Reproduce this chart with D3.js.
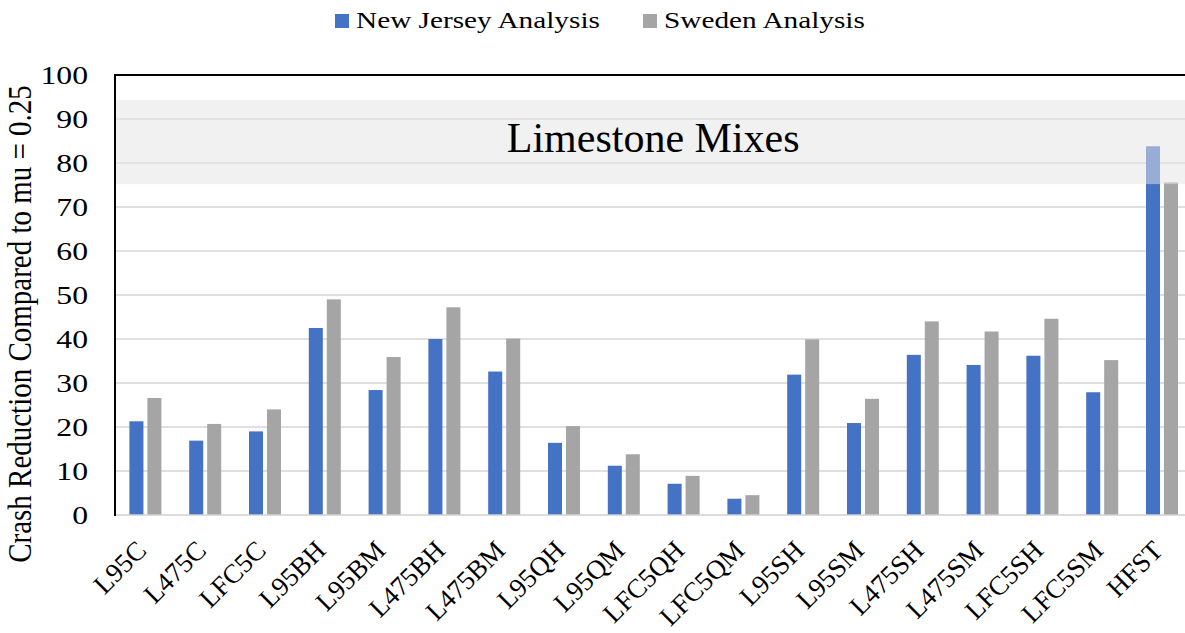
<!DOCTYPE html>
<html>
<head>
<meta charset="utf-8">
<script src="https://cdn.jsdelivr.net/npm/d3@7"></script>
<style>
  html, body { margin: 0; padding: 0; background: #fff; }
  svg { display: block; }
  text { font-family: "Times New Roman", "Liberation Serif", serif; fill: #000; }
</style>
</head>
<body>
<svg id="chart" width="1185" height="633"></svg>
<script>
// ---- data ----
const categories = ["L95C","L475C","LFC5C","L95BH","L95BM","L475BH","L475BM","L95QH","L95QM","LFC5QH","LFC5QM","L95SH","L95SM","L475SH","L475SM","LFC5SH","LFC5SM","HFST"];
const seriesNames = ["New Jersey Analysis","Sweden Analysis"];
const newJersey = [21.3, 16.9, 19.0, 42.5, 28.4, 40.0, 32.6, 16.4, 11.2, 7.1, 3.7, 31.9, 20.9, 36.4, 34.1, 36.2, 27.9, 83.8];
const sweden    = [26.6, 20.7, 24.0, 49.0, 35.9, 47.2, 40.1, 20.2, 13.8, 8.9, 4.5, 39.9, 26.4, 44.0, 41.7, 44.6, 35.2, 75.6];
const yTicks = [0,10,20,30,40,50,60,70,80,90,100];
const bandRange = [75.2, 94.3];
const bandLabel = "Limestone Mixes";
const yTitle = "Crash Reduction Compared to mu = 0.25";
const colors = ["#4472c4", "#a5a5a5"];

// ---- layout ----
const svg = d3.select("#chart");
const mLeft = 115, mRight = 1191.4, mTop = 75, mBottom = 515;

const x = d3.scaleBand().domain(categories).range([mLeft, mRight]).paddingInner(0).paddingOuter(0);
const x1 = d3.scaleBand().domain(seriesNames).range([-15.5, 16.5]).paddingInner(0.22);
const y = d3.scaleLinear().domain([0, 100]).range([mBottom, mTop]);

// gridlines
svg.append("g").selectAll("line").data(yTicks.filter(t => t > 0 && t < 100)).join("line")
  .attr("x1", mLeft).attr("x2", mRight)
  .attr("y1", d => y(d)).attr("y2", d => y(d))
  .attr("stroke", "#d6d6d6").attr("stroke-width", 1.5);

// bars
const rows = categories.map((c, i) => ({ cat: c, vals: [newJersey[i], sweden[i]] }));
const groups = svg.append("g").selectAll("g").data(rows).join("g")
  .attr("transform", d => `translate(${x(d.cat) + x.bandwidth() / 2},0)`);
groups.selectAll("rect").data(d => d.vals.map((v, k) => ({ v, k }))).join("rect")
  .attr("x", d => x1(seriesNames[d.k]))
  .attr("width", x1.bandwidth())
  .attr("y", d => y(d.v))
  .attr("height", d => y(0) - y(d.v))
  .attr("fill", d => colors[d.k]);

// highlight band (semi-transparent overlay)
svg.append("rect")
  .attr("x", mLeft).attr("width", mRight - mLeft)
  .attr("y", y(bandRange[1])).attr("height", y(bandRange[0]) - y(bandRange[1]))
  .attr("fill", "#e4e4e4").attr("fill-opacity", 0.52);

svg.append("text")
  .attr("x", (mLeft + mRight) / 2).attr("y", 152)
  .attr("text-anchor", "middle")
  .style("font-size", "42px")
  .text(bandLabel);

// axes lines
svg.append("line").attr("x1", mLeft).attr("x2", mRight).attr("y1", mBottom).attr("y2", mBottom)
  .attr("stroke", "#d0d0d0").attr("stroke-width", 1.5);
svg.append("line").attr("x1", mLeft - 1).attr("x2", mRight).attr("y1", mTop).attr("y2", mTop)
  .attr("stroke", "#000").attr("stroke-width", 2);
svg.append("line").attr("x1", mLeft).attr("x2", mLeft).attr("y1", mTop).attr("y2", mBottom + 1)
  .attr("stroke", "#000").attr("stroke-width", 2);

// y tick labels
svg.append("g").selectAll("text").data(yTicks).join("text")
  .attr("transform", d => `translate(88,${y(d) + 9}) scale(1.22,1)`)
  .attr("text-anchor", "end")
  .style("font-size", "26px")
  .text(d => d);

// y title
svg.append("text")
  .attr("transform", `translate(31,324) scale(1.18,1) rotate(-90)`)
  .attr("text-anchor", "middle")
  .style("font-size", "29px")
  .text(yTitle);

// x labels
svg.append("g").selectAll("text").data(categories).join("text")
  .attr("transform", d => `translate(${x(d) + x.bandwidth() / 2 + 3},552) rotate(-45)`)
  .attr("text-anchor", "end")
  .style("font-size", "27px")
  .text(d => d);

// legend
const legendX = [335, 643];
const lg = svg.append("g").selectAll("g").data(seriesNames).join("g")
  .attr("transform", (d, i) => `translate(${legendX[i]},0)`);
lg.append("rect").attr("x", 0).attr("y", 14).attr("width", 14).attr("height", 14)
  .attr("fill", (d, i) => colors[i]);
lg.append("text")
  .attr("transform", "translate(21,28) scale(1.22,1)")
  .style("font-size", "24px")
  .text(d => d);
</script>
</body>
</html>
